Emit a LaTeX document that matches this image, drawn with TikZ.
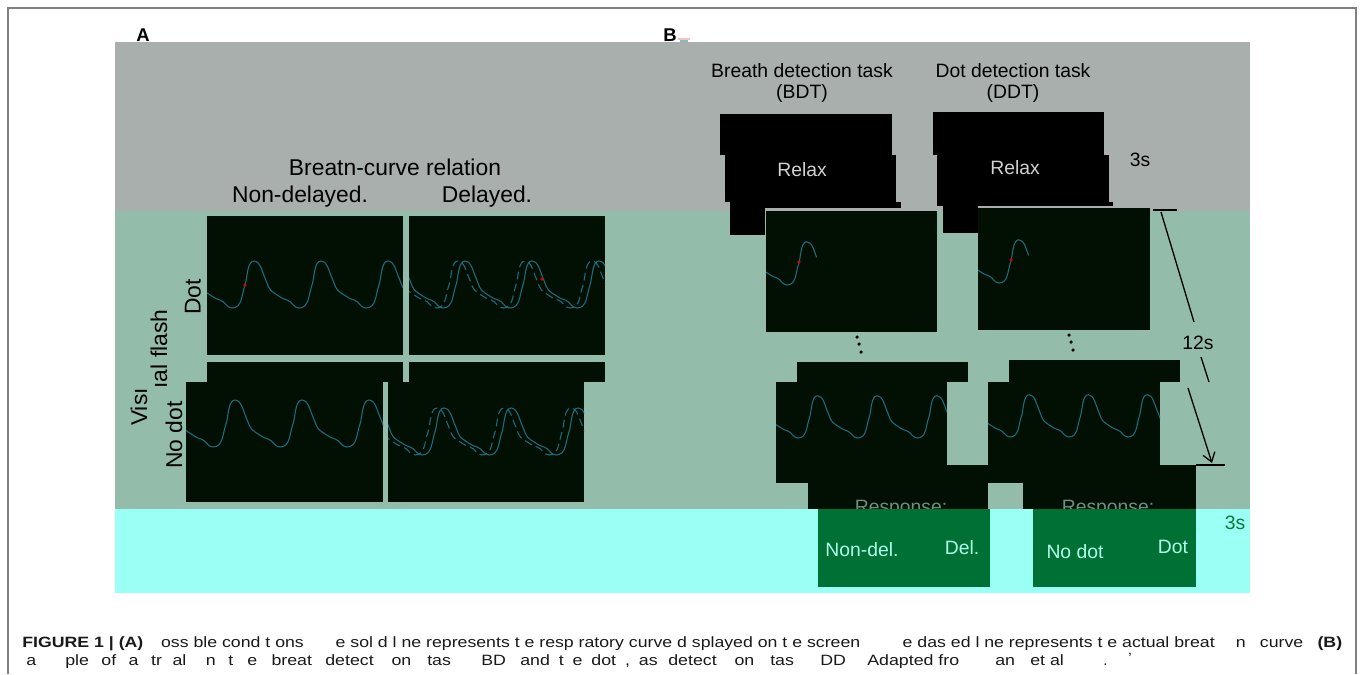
\documentclass[tikz,border=0pt]{standalone}
\usepackage{fontspec}
\setmainfont{Liberation Sans}
\usetikzlibrary{arrows.meta}

\definecolor{graybg}{RGB}{168,175,172}
\definecolor{greenbg}{RGB}{147,189,170}
\definecolor{cyanbg}{RGB}{154,255,244}
\definecolor{scr}{RGB}{2,16,4}
\definecolor{wavecol}{RGB}{30,108,128}
\definecolor{dotred}{RGB}{190,10,10}
\definecolor{respgreen}{RGB}{0,112,52}
\definecolor{choicetxt}{RGB}{175,255,232}
\definecolor{durgreen}{RGB}{10,120,60}

\tikzset{
  screen/.style 2 args={fill=scr, inner sep=0pt, outer sep=0pt, anchor=north west,
    minimum width=#1*0.02cm, minimum height=#2*0.02cm},
  blackbox/.style 2 args={screen={#1}{#2}, fill=black},
  respbox/.style 2 args={screen={#1}{#2}, fill=respgreen},
  trace/.style={draw=wavecol, line width=0.6pt},
  delayed/.style={trace, dash pattern=on 4.5pt off 2.5pt},
  panel/.style={font=\fontsize{10.5}{12}\selectfont\bfseries, inner sep=0pt},
  headA/.style={font=\fontsize{13}{15}\selectfont, inner sep=0pt},
  headB/.style={font=\fontsize{11}{11.5}\selectfont, inner sep=0pt, align=center},
  relaxtxt/.style={font=\fontsize{11}{13}\selectfont, text=black!18, inner sep=0pt},
  resptxt/.style={font=\fontsize{11}{13}\selectfont, text=black!25!greenbg, inner sep=0pt, anchor=base},
  choice/.style={font=\fontsize{11}{13}\selectfont, text=choicetxt, inner sep=0pt},
  captxt/.style={anchor=base west, inner sep=0pt, text=black!90},
  bracket/.style={line width=0.75pt, black}
}

% one breathing cycle after another, starting at a trough
\newcommand{\breathtrace}[2]{%
  \draw[#1] (-67,0) \foreach \k in {1,...,#2}{
    to[out=0,in=250] ++(13,-23) to[out=70,in=180,looseness=0.7] ++(9,-24)
    to[out=0,in=115,looseness=0.8] ++(11,17) to[out=-65,in=150] ++(9,15)
    to[out=-30,in=165] ++(13,7) to[out=-15,in=180] ++(12,8)};}
\newcommand{\firstbreath}[1]{%
  \draw[#1] (-34,-30) to[out=-65,in=150] ++(9,15) to[out=-30,in=165] ++(13,7)
    to[out=-15,in=180] ++(12,8) to[out=0,in=250] ++(13,-23)
    to[out=70,in=180,looseness=0.7] ++(9,-24) to[out=0,in=115,looseness=0.8] ++(11,17);}
\newcommand{\capfont}{\fontsize{8.5}{10}\selectfont}

\begin{document}
\begin{tikzpicture}[x=0.02cm,y=-0.02cm]
\useasboundingbox (0,0) rectangle (1360,674);
\draw[gray, line width=0.8pt] (8,674) -- (8,8) -- (1356,8) -- (1356,674);

% bands
\fill[graybg] (115,42) rectangle (1250,211);
\fill[greenbg] (115,211) rectangle (1250,509);
\fill[cyanbg] (115,509) rectangle (1250,593);

% A
\node[panel] (PanelA) at (143,35) {A};
\node[headA] (Relation) at (395,167) {Breatn-curve relation};
\node[headA] (Nondelayed) at (300,197) {Non-delayed.};
\node[headA] (Delayed) at (487,197) {Delayed.};
\node[headA, rotate=90] (DotLbl) at (193,297) {Dot};
\node[headA, rotate=90] (FlashLbl) at (159,349) {ıal flash};
\node[headA, rotate=90] (VisLbl) at (139,407) {Visı};
\node[headA, rotate=90] (NodotLbl) at (174,435) {No dot};

\node[screen={196}{139}] (DotNondel) at (207,216) {};
\node[screen={196}{139}] (DotDel) at (409,216) {};
\node[screen={196}{20}] (NodotNondelTop) at (207,362) {};
\node[screen={196}{20}] (NodotDelTop) at (409,362) {};
\node[screen={197}{120}] (NodotNondel) at (186,382) {};
\node[screen={196}{120}] (NodotDel) at (388,382) {};

\begin{scope}
  \clip (DotNondel.south west) rectangle (DotNondel.north east);
  \begin{scope}[shift={(232,308)}] \breathtrace{trace}{4} \end{scope}
  \fill[dotred] (245,285) circle (1.1pt);
\end{scope}
\begin{scope}
  \clip (DotDel.south west) rectangle (DotDel.north east);
  \begin{scope}[shift={(436,308)}] \breathtrace{delayed}{4} \end{scope}
  \begin{scope}[shift={(443,308)}] \breathtrace{trace}{4} \end{scope}
  \fill[dotred] (542,279) circle (1.1pt);
\end{scope}
\begin{scope}
  \clip (NodotNondel.south west) rectangle (NodotNondel.north east);
  \begin{scope}[shift={(213,447)}] \breathtrace{trace}{4} \end{scope}
\end{scope}
\begin{scope}
  \clip (NodotDel.south west) rectangle (NodotDel.north east);
  \begin{scope}[shift={(415,455)}] \breathtrace{delayed}{4} \end{scope}
  \begin{scope}[shift={(422,455)}] \breathtrace{trace}{4} \end{scope}
\end{scope}

% B
\node[panel] (PanelB) at (670,35) {B};
\fill[pink] (678,38) rectangle (690,40);
\fill[teal!50] (680,40) rectangle (688,42);
\node[headB] (Bdt) at (802,83) {Breath detection task\\(BDT)};
\node[headB] (Ddt) at (1013,83) {Dot detection task\\(DDT)};

\node[blackbox={172}{41}] (BdtTop) at (720,114) {};
\node[blackbox={171}{47}] (BdtMid) at (725,155) {};
\node[blackbox={171}{6}] (BdtLip) at (730,202) {};
\node[blackbox={35}{33}] (BdtFoot) at (730,202) {};
\node[relaxtxt] (BdtRelax) at (802,170) {Relax};
\node[blackbox={171}{43}] (DdtTop) at (933,112) {};
\node[blackbox={172}{47}] (DdtMid) at (937,155) {};
\node[blackbox={176}{4}] (DdtLip) at (937,202) {};
\node[blackbox={35}{31}] (DdtFoot) at (943,202) {};
\node[relaxtxt] (DdtRelax) at (1015,168) {Relax};
\node[font=\fontsize{11}{13}\selectfont, inner sep=0pt] (RelaxDur) at (1140,160) {3s};

\node[screen={171}{121}] (BdtFirst) at (766,211) {};
\node[screen={171}{20}] (BdtLastTop) at (797,362) {};
\node[screen={171}{101}] (BdtLast) at (776,382) {};
\node[screen={180}{44}] (BdtRespTop) at (808,465) {};
\node[screen={172}{122}] (DdtFirst) at (978,208) {};
\node[screen={171}{22}] (DdtLastTop) at (1009,360) {};
\node[screen={172}{101}] (DdtLast) at (988,382) {};
\node[screen={173}{44}] (DdtRespTop) at (1023,465) {};

\begin{scope}
  \clip (BdtFirst.south west) rectangle (BdtFirst.north east);
  \begin{scope}[shift={(787,285)}, xscale=0.9, yscale=0.92] \firstbreath{trace} \end{scope}
  \fill[dotred] (799,262) circle (1.1pt);
\end{scope}
\begin{scope}
  \clip (DdtFirst.south west) rectangle (DdtFirst.north east);
  \begin{scope}[shift={(999,283)}, xscale=0.9, yscale=0.92] \firstbreath{trace} \end{scope}
  \fill[dotred] (1011,260) circle (1.1pt);
\end{scope}
\begin{scope}
  \clip (BdtLast.south west) rectangle (BdtLast.north east);
  \begin{scope}[shift={(798,438)}, xscale=0.89, yscale=0.9] \breathtrace{trace}{4} \end{scope}
\end{scope}
\begin{scope}
  \clip (DdtLast.south west) rectangle (DdtLast.north east);
  \begin{scope}[shift={(1010,437)}, xscale=0.88, yscale=0.9] \breathtrace{trace}{4} \end{scope}
\end{scope}

\foreach \x/\y in {857/337, 859/344, 861/352, 1069/335, 1071/342, 1073/350}
  \fill (\x,\y) circle (1pt);

\node[resptxt] (BdtRespTxt) at (901,513) {Response:};
\node[resptxt] (DdtRespTxt) at (1108,513) {Response:};
\node[respbox={172}{78}] (BdtResp) at (818,509) {};
\node[respbox={163}{78}] (DdtResp) at (1033,509) {};
\node[choice] (NondelChoice) at (862,550) {Non-del.};
\node[choice] (DelChoice) at (962,548) {Del.};
\node[choice] (NodotChoice) at (1075,552) {No dot};
\node[choice] (DotChoice) at (1173,547) {Dot};
\node[font=\fontsize{11}{13}\selectfont, text=durgreen, inner sep=0pt] (RespDur) at (1235,523) {3s};

% 12 s span
\coordinate (TickTopL) at (1153,210);
\coordinate (TickTopR) at (1177,210);
\coordinate (SpanA) at (1161,212);
\coordinate (SpanB) at (1194,322);
\node[font=\fontsize{11}{13}\selectfont, inner sep=0pt] (TrialDur) at (1198,343) {12s};
\coordinate (SpanC) at (1201,357);
\coordinate (SpanD) at (1209,382);
\coordinate (SpanE) at (1188,388);
\coordinate (SpanF) at (1212,463);
\coordinate (TickBotL) at (1196,465);
\coordinate (TickBotR) at (1225,465);
\draw[bracket] (TickTopL) -- (TickTopR);
\draw[bracket] (SpanA) -- (SpanB);
\draw[bracket] (SpanC) -- (SpanD);
\draw[bracket, -{Straight Barb[length=5pt,width=7pt]}] (SpanE) -- (SpanF);
\draw[bracket] (TickBotL) -- (TickBotR);

% caption
\node[captxt] (CapOne) at (22,647)
  {\resizebox{26.4cm}{\height}{\capfont\textbf{FIGURE 1 | (A)}\hspace{1em}oss ble cond t ons\hspace{1.8em}e sol d l ne represents t e resp ratory curve d splayed on t e screen\hspace{2.4em}e das ed l ne represents t e actual breat\hspace{1.2em}n\hspace{0.8em}curve\hspace{0.8em}\textbf{(B)}}};
\foreach \x/\t [count=\i] in {26/a,
    65/{ple\hspace{0.7em}of\hspace{0.7em}a\hspace{0.7em}tr\hspace{0.6em}al\hspace{1.1em}n\hspace{0.7em}t\hspace{0.8em}e\hspace{0.8em}breat},
    325/{detect\hspace{1em}on\hspace{0.9em}tas}, 481/BD,
    520/{and\hspace{0.5em}t\hspace{0.5em}e\hspace{0.5em}dot\hspace{0.5em},\hspace{0.5em}as},
    668/{detect\hspace{1em}on\hspace{0.9em}tas}, 820/DD, 867/{Adapted fro}, 995/an, 1030/{et al}}
  \node[captxt] (CapTwo\i) at (\x,665) {\scalebox{1.19}[1]{\capfont\t}};
\node[captxt] (CapDot) at (1103,665) {\capfont .};
\node[captxt] (CapMark) at (1128,663) {\capfont ’};
\end{tikzpicture}
\end{document}
